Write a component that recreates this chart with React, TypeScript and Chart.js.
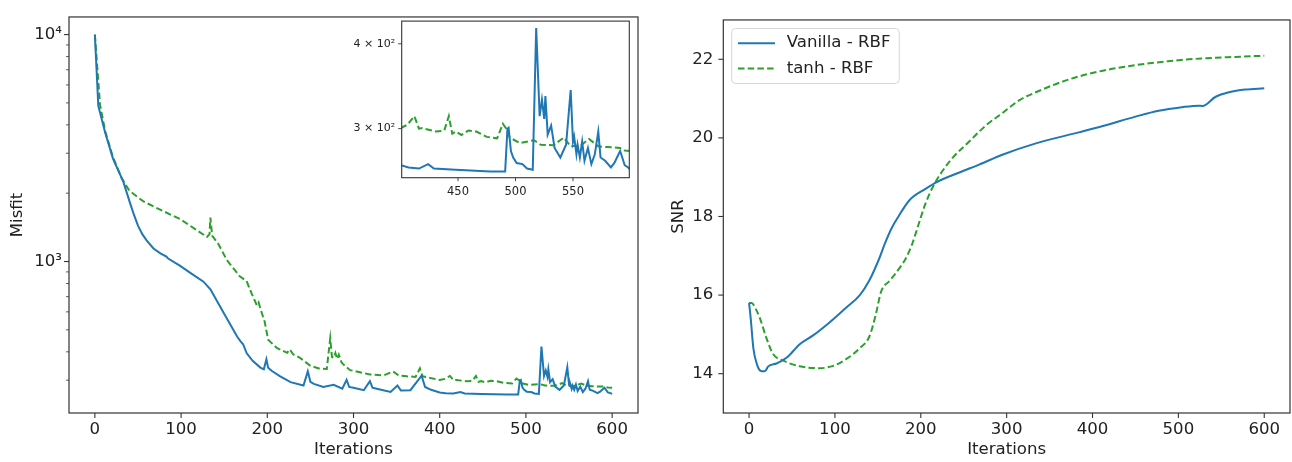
import React, { useEffect, useRef } from "react";
import { Chart, registerables } from "chart.js";

Chart.register(...registerables);

const FONT = "'DejaVu Sans', sans-serif";
const TEXT = "#222222";
const FRAME = "#333333";
const BLUE = "#1f77b4";
const GREEN = "#2ca02c";

const seriesLabels = ["Vanilla - RBF", "tanh - RBF"];

// [iteration, misfit]
const misfitVanilla: number[][] = [
  [0, 10000], [4, 4850], [12, 3690], [21, 2840], [33, 2250], [40, 1850], [45, 1620], [50, 1440], [55, 1320],
  [60, 1240], [68, 1141], [76, 1086], [83, 1051], [85, 1030],
  [99, 957], [112, 885], [126, 815], [134, 754], [149, 598], [165, 467], [169, 445], [172, 432], [176, 395],
  [183, 365], [192, 341], [196, 335], [199, 371], [201, 340], [205, 330], [215, 312], [227, 294], [242, 284],
  [247, 328], [250, 295], [254, 289], [265, 280], [277, 286], [287, 275], [292, 301], [295, 280], [300, 278],
  [312, 271], [319, 297], [322, 278], [327, 275], [343, 266], [351, 284], [355, 270], [366, 271], [379, 314],
  [383, 280], [390, 272], [400, 265], [407, 263], [416, 262], [424, 266], [429, 262], [448, 261], [478, 259.5],
  [491, 259.5], [493, 300], [494, 301], [496, 278], [498, 272], [501, 267], [506, 266], [510, 262], [515, 261],
  [518, 422], [521, 313], [523, 331], [525, 310], [526, 335], [528, 294], [531, 303], [534, 281], [539, 272],
  [544, 284], [548, 342], [550, 287], [551, 292], [553, 275], [554, 284], [556, 272], [558, 287], [560, 269],
  [563, 281], [566, 266], [569, 275], [572, 297], [574, 272], [578, 269], [583, 263], [586, 267], [591, 278],
  [592, 275], [595, 265], [598, 263], [600, 261],
];

const misfitTanh: number[][] = [
  [0, 10000], [6, 4900], [12, 3750], [21, 2880], [31, 2330], [40, 2050], [56, 1843], [71, 1726], [99, 1537],
  [115, 1400], [130, 1282], [133, 1320], [134, 1563], [136, 1300], [143, 1199], [153, 1016], [161, 930],
  [168, 861], [176, 820], [182, 720], [188, 640], [190, 660], [192, 620], [197, 542], [201, 452], [211, 416],
  [223, 396], [226, 410], [230, 390], [238, 376], [250, 347], [260, 338], [269, 336], [273, 459], [275, 380],
  [277, 376], [279, 395], [281, 372], [283, 389], [286, 360], [288, 353], [296, 332], [300, 330], [319, 318],
  [335, 315], [346, 328], [352, 315], [362, 312], [372, 310], [377, 338], [380, 312], [385, 309], [400, 300.5],
  [406, 304], [412, 313], [416, 300], [419, 300.5], [431, 297], [438, 298], [442, 313], [445, 295], [448, 297],
  [453, 293.6], [459, 298], [466, 297], [475, 291.7], [484, 290.3], [489, 305], [492, 300], [495, 291],
  [504, 285.6], [516, 288.4], [522, 284], [533, 283.5], [542, 291], [548, 282.5], [557, 283.5], [564, 289.7],
  [572, 282.5], [580, 281.8], [591, 281], [595, 278.5], [600, 278],
];

// [iteration, SNR]
const snrVanilla: number[][] = [
  [0, 15.8], [2, 15.39], [5, 14.65], [9, 14.25], [13, 14.08], [17, 14.06], [20, 14.1], [22, 14.18], [32, 14.26],
  [44, 14.41], [59, 14.75], [75, 14.98], [94, 15.31], [113, 15.68], [129, 16.0], [140, 16.37], [152, 16.95],
  [158, 17.3], [166, 17.7], [174, 18.0], [187, 18.42], [206, 18.71], [218, 18.87], [245, 19.12], [268, 19.32],
  [295, 19.57], [334, 19.86], [384, 20.14], [412, 20.3], [450, 20.54], [477, 20.69], [504, 20.78], [524, 20.82],
  [528, 20.81], [543, 21.04], [559, 21.16], [578, 21.23], [600, 21.26],
];

const snrTanh: number[][] = [
  [0, 15.8], [3, 15.8], [7, 15.68], [13, 15.39], [20, 14.92], [28, 14.5], [40, 14.33], [59, 14.19], [82, 14.14],
  [98, 14.2], [113, 14.37], [129, 14.65], [140, 14.94], [147, 15.45], [154, 16.1], [164, 16.37], [175, 16.68],
  [183, 16.95], [190, 17.3], [197, 17.77], [205, 18.3], [214, 18.75], [225, 19.15], [237, 19.49], [257, 19.92],
  [268, 20.16], [276, 20.32], [295, 20.63], [315, 20.96], [334, 21.16], [373, 21.49], [412, 21.71], [450, 21.85],
  [488, 21.95], [527, 22.02], [566, 22.06], [600, 22.09],
];

const iterTicks = [0, 100, 200, 300, 400, 500, 600];
const insetIterTicks = [450, 500, 550];
const snrTicks = [14, 16, 18, 20, 22];
const misfitTicks = [300, 400, 500, 600, 700, 800, 900, 1000, 2000, 3000, 4000, 5000, 6000, 7000, 8000, 9000, 10000];
const misfitMajorLabels: Record<number, string> = { 1000: "10³", 10000: "10⁴" };
const insetTicks = [300, 400];
const insetLabels: Record<number, string> = { 300: "3 × 10²", 400: "4 × 10²" };

const toPts = (arr: number[][]) => arr.map(([x, y]) => ({ x, y }));

const framePlugin = {
  id: "frameTicks",
  beforeDraw(chart: any, _a: any, opts: any) {
    if (opts.bg) {
      const { ctx, chartArea: a } = chart;
      ctx.save();
      ctx.fillStyle = "#ffffff";
      ctx.fillRect(a.left, a.top, a.right - a.left, a.bottom - a.top);
      ctx.restore();
    }
  },
  afterDraw(chart: any, _a: any, opts: any) {
    const { ctx, chartArea: a } = chart;
    ctx.save();
    ctx.strokeStyle = FRAME;
    ctx.lineWidth = opts.lw || 1.2;
    ctx.strokeRect(a.left, a.top, a.right - a.left, a.bottom - a.top);
    const xs = chart.scales.x;
    ctx.lineWidth = opts.tw || 1.1;
    xs.ticks.forEach((t: any) => {
      const px = xs.getPixelForValue(t.value);
      ctx.beginPath();
      ctx.moveTo(px, a.bottom);
      ctx.lineTo(px, a.bottom + opts.major);
      ctx.stroke();
    });
    const ys = chart.scales.y;
    ys.ticks.forEach((t: any) => {
      const py = ys.getPixelForValue(t.value);
      const isMajor = t.label !== "" && t.label !== undefined;
      const len = isMajor ? opts.major : opts.minor;
      ctx.lineWidth = isMajor ? opts.tw || 1.1 : 0.8;
      ctx.beginPath();
      ctx.moveTo(a.left - len, py);
      ctx.lineTo(a.left, py);
      ctx.stroke();
    });
    if (opts.legend) {
      const lx = a.left + 8.4;
      const ly = a.top + 8.5;
      const w = 167.6;
      const h = 55;
      ctx.fillStyle = "rgba(255,255,255,0.8)";
      ctx.strokeStyle = "#d6d6d6";
      ctx.lineWidth = 1;
      ctx.beginPath();
      ctx.roundRect(lx, ly, w, h, 4);
      ctx.fill();
      ctx.stroke();
      const ds = chart.data.datasets;
      [14.7, 40].forEach((dy, i) => {
        const d = ds[i];
        ctx.strokeStyle = d.borderColor;
        ctx.lineWidth = d.borderWidth;
        ctx.setLineDash(d.borderDash || []);
        ctx.beginPath();
        ctx.moveTo(lx + 6.3, ly + dy);
        ctx.lineTo(lx + 43.3, ly + dy);
        ctx.stroke();
        ctx.setLineDash([]);
        ctx.fillStyle = TEXT;
        ctx.font = `16.6px ${FONT}`;
        ctx.textAlign = "left";
        ctx.textBaseline = "middle";
        ctx.fillText(d.label, lx + 55, ly + dy);
      });
    }
    ctx.restore();
  },
};

function datasets(a: number[][], b: number[][], smooth: boolean) {
  const common = {
    pointRadius: 0,
    borderWidth: 2,
    fill: false,
    tension: 0,
    cubicInterpolationMode: smooth ? ("monotone" as const) : ("default" as const),
  };
  return [
    { ...common, label: seriesLabels[0], data: toPts(a), borderColor: BLUE, backgroundColor: BLUE },
    { ...common, label: seriesLabels[1], data: toPts(b), borderColor: GREEN, backgroundColor: GREEN, borderDash: [6.5, 3.2] },
  ];
}

const tickFont = { family: FONT, size: 16.6 };
const noGrid = { display: false, drawTicks: false };

function mainMisfitConfig(): any {
  return {
    type: "line",
    data: { datasets: datasets(misfitVanilla, misfitTanh, false) },
    options: {
      animation: false,
      responsive: false,
      layout: { padding: { left: 0, top: 7.5, right: 22, bottom: 0 } },
      plugins: { legend: { display: false }, tooltip: { enabled: false }, frameTicks: { major: 5, minor: 3 } },
      scales: {
        x: {
          type: "linear",
          min: -30,
          max: 630,
          grid: noGrid,
          border: { display: false },
          afterBuildTicks: (s: any) => { s.ticks = iterTicks.map((v) => ({ value: v })); },
          afterFit: (s: any) => { s.height = 49; },
          ticks: { font: tickFont, color: TEXT, padding: 6.5, maxRotation: 0, autoSkip: false, callback: (v: any) => String(v) },
          title: { display: true, text: "Iterations", font: tickFont, color: TEXT, padding: { top: 0, bottom: 2 } },
        },
        y: {
          type: "logarithmic",
          min: 215,
          max: 11958,
          grid: noGrid,
          border: { display: false },
          afterBuildTicks: (s: any) => { s.ticks = misfitTicks.map((v) => ({ value: v })); },
          afterFit: (s: any) => { s.width = 69; },
          ticks: { font: tickFont, color: TEXT, padding: 7, autoSkip: false, callback: (v: any) => misfitMajorLabels[v] ?? "" },
          title: { display: true, text: "Misfit", font: tickFont, color: TEXT, padding: { top: 8, bottom: 0 } },
        },
      },
    },
    plugins: [framePlugin],
  };
}

function insetConfig(): any {
  const f = { family: FONT, size: 11.5 };
  return {
    type: "line",
    data: { datasets: datasets(misfitVanilla, misfitTanh, false) },
    options: {
      animation: false,
      responsive: false,
      layout: { padding: { left: 0, top: 7.7, right: 10.7, bottom: 0 } },
      plugins: { legend: { display: false }, tooltip: { enabled: false }, frameTicks: { major: 3.5, minor: 2, bg: true, lw: 1.1, tw: 0.9 } },
      scales: {
        x: {
          type: "linear",
          min: 401,
          max: 599,
          grid: noGrid,
          border: { display: false },
          afterBuildTicks: (s: any) => { s.ticks = insetIterTicks.map((v) => ({ value: v })); },
          afterFit: (s: any) => { s.height = 26.3; },
          ticks: { font: f, color: TEXT, padding: 7.5, maxRotation: 0, autoSkip: false, callback: (v: any) => String(v) },
        },
        y: {
          type: "logarithmic",
          min: 254,
          max: 432,
          grid: noGrid,
          border: { display: false },
          afterBuildTicks: (s: any) => { s.ticks = insetTicks.map((v) => ({ value: v })); },
          afterFit: (s: any) => { s.width = 57.7; },
          ticks: { font: { family: FONT, size: 11 }, color: TEXT, padding: 6.5, autoSkip: false, callback: (v: any) => insetLabels[v] ?? "" },
        },
      },
    },
    plugins: [framePlugin],
  };
}

function snrConfig(): any {
  return {
    type: "line",
    data: { datasets: datasets(snrVanilla, snrTanh, true) },
    options: {
      animation: false,
      responsive: false,
      layout: { padding: { left: 0, top: 7.5, right: 2, bottom: 0 } },
      plugins: { legend: { display: false }, tooltip: { enabled: false }, frameTicks: { major: 5, minor: 3, legend: true } },
      scales: {
        x: {
          type: "linear",
          min: -30,
          max: 630,
          grid: noGrid,
          border: { display: false },
          afterBuildTicks: (s: any) => { s.ticks = iterTicks.map((v) => ({ value: v })); },
          afterFit: (s: any) => { s.height = 49; },
          ticks: { font: tickFont, color: TEXT, padding: 6.5, maxRotation: 0, autoSkip: false, callback: (v: any) => String(v) },
          title: { display: true, text: "Iterations", font: tickFont, color: TEXT, padding: { top: 0, bottom: 2 } },
        },
        y: {
          type: "linear",
          min: 13,
          max: 23,
          grid: noGrid,
          border: { display: false },
          afterBuildTicks: (s: any) => { s.ticks = snrTicks.map((v) => ({ value: v })); },
          afterFit: (s: any) => { s.width = 63.3; },
          ticks: { font: tickFont, color: TEXT, padding: 10, autoSkip: false, callback: (v: any) => String(v) },
          title: { display: true, text: "SNR", font: tickFont, color: TEXT, padding: { top: 9.2, bottom: 0 } },
        },
      },
    },
    plugins: [framePlugin],
  };
}

function ChartCanvas({ make, left, top, width, height }: any) {
  const ref = useRef<HTMLCanvasElement | null>(null);
  useEffect(() => {
    if (!ref.current) return;
    const c = new Chart(ref.current, make());
    return () => c.destroy();
  }, []);
  return (
    <canvas
      ref={ref}
      width={width}
      height={height}
      style={{ position: "absolute", left, top, width, height, display: "block" }}
    />
  );
}

export default function App() {
  return (
    <div style={{ position: "absolute", left: 0, top: 0, width: 1292, height: 462, background: "#ffffff", overflow: "hidden" }}>
      <ChartCanvas make={mainMisfitConfig} left={0} top={0} width={660} height={462} />
      <ChartCanvas make={insetConfig} left={344} top={8} width={296} height={196} />
      <ChartCanvas make={snrConfig} left={660} top={0} width={632} height={462} />
    </div>
  );
}
